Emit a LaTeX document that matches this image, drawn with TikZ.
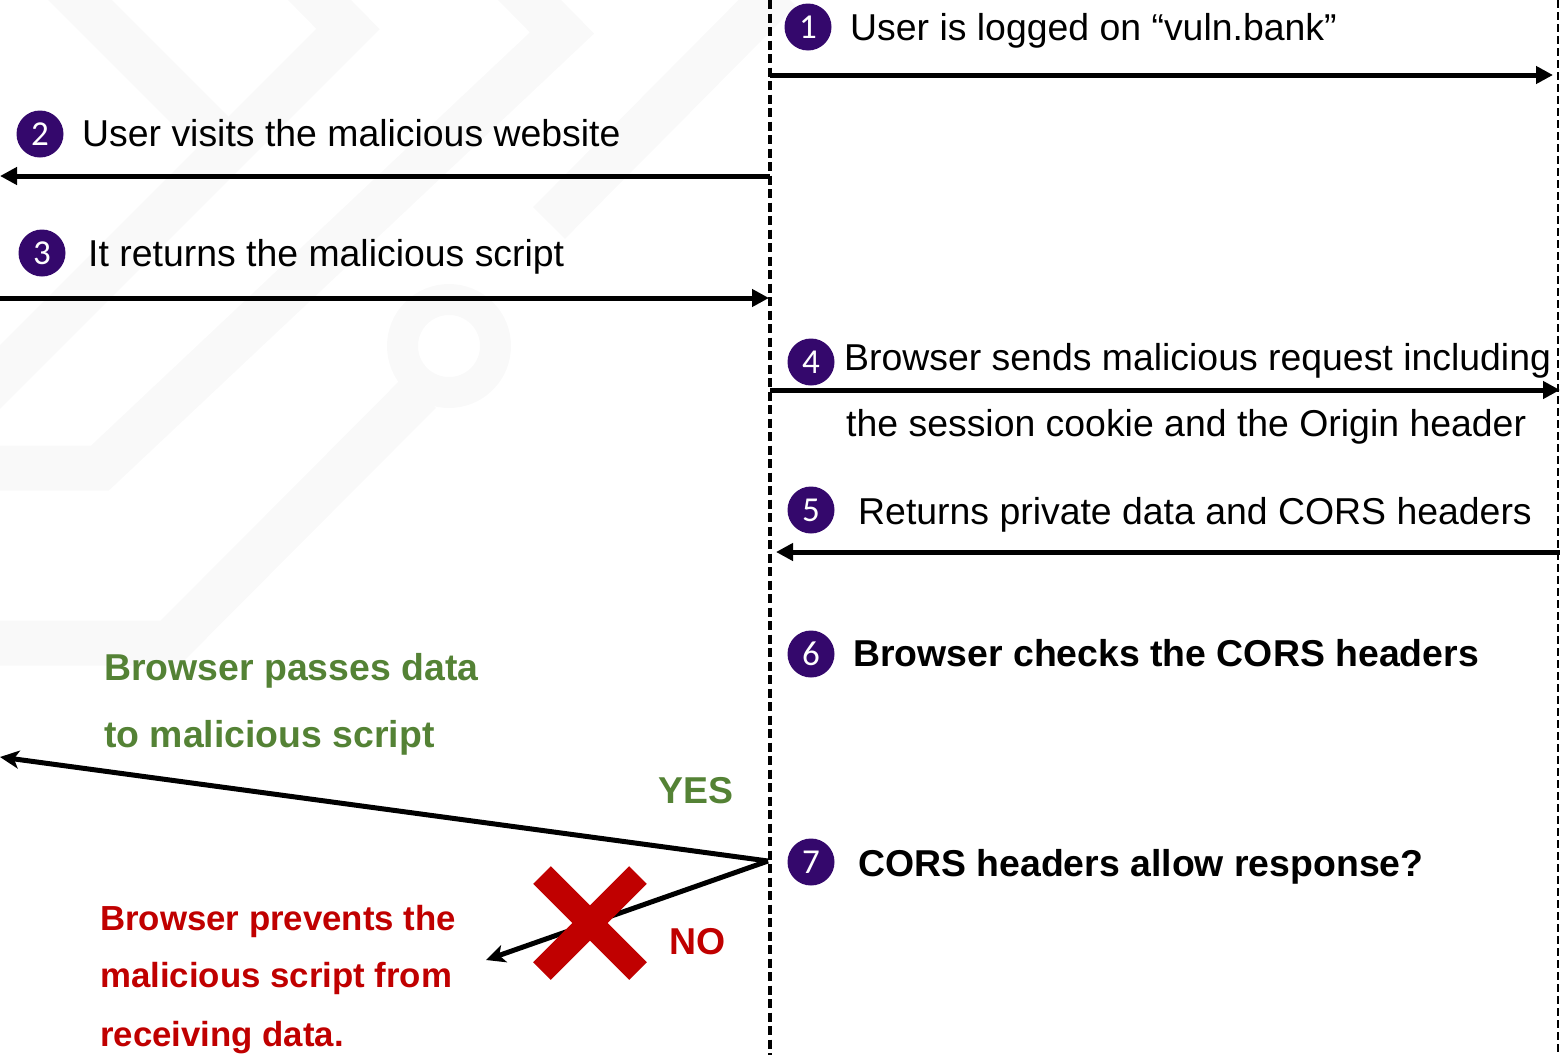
\documentclass[tikz,border=0pt]{standalone}
\usepackage{fontspec}
\setmainfont{Liberation Sans}
\newfontfamily\digitfont{Carlito}
\usetikzlibrary{arrows.meta}
\definecolor{numpurple}{RGB}{52,8,108}
\definecolor{okgreen}{RGB}{84,130,53}
\definecolor{nored}{RGB}{192,0,0}
\definecolor{wm}{RGB}{249,249,249}
\begin{document}
\begin{tikzpicture}[x=1pt,y=-1pt,
  num/.style={circle,fill=numpurple,text=white,minimum size=47pt,inner sep=0pt,
    font=\digitfont\fontsize{35}{35}\selectfont},
  lbl/.style={anchor=base west,inner sep=0pt,font=\fontsize{37.4}{44}\selectfont},
  blbl/.style={anchor=base west,inner sep=0pt,font=\fontsize{37.4}{44}\selectfont\bfseries},
  rlbl/.style={anchor=base west,inner sep=0pt,text=nored,font=\fontsize{34.8}{40}\selectfont\bfseries},
  msg/.style={line width=5pt,-{Triangle[length=17pt,width=17pt]}},
  branch/.style={line width=5pt,-{Stealth[length=19pt,width=18pt,inset=5pt]}},
  lifeline/.style={line width=3.2pt,dash pattern=on 9pt off 4.5pt},
  edgeline/.style={line width=1.3pt,dash pattern=on 8pt off 4pt},
  wmark/.style={wm,line width=45pt,line join=miter}
]
\useasboundingbox (0,0) rectangle (1560,1055);
% faint background watermark
\draw[wmark] (40,-40) -- (240,160);
\draw[wmark] (285,-35) -- (348,29) -- (-20,397);
\draw[wmark] (500,-30) -- (562,33) -- (100,468) -- (-20,468);
\draw[wmark] (780,-10) -- (549,223);
\draw[wm,line width=31pt] (449,346) circle (46.5);
\draw[wmark] (420,392) -- (170,643) -- (-20,643);

% lifelines
\coordinate (topL) at (770,0);
\coordinate (botL) at (770,1055);
\coordinate (topR) at (1558,0);
\coordinate (botR) at (1558,1055);
\draw[lifeline] (topL) -- (botL);
\draw[edgeline] (topR) -- (botR);

% message end points
\coordinate (m1s) at (770,75);   \coordinate (m1e) at (1553,75);
\coordinate (m2s) at (770,176);  \coordinate (m2e) at (0,176);
\coordinate (m3s) at (0,298);    \coordinate (m3e) at (769,298);
\coordinate (m4s) at (770,390);  \coordinate (m4e) at (1560,390);
\coordinate (m5s) at (1560,552); \coordinate (m5e) at (776,552);
\coordinate (dec) at (768,861);
\coordinate (yesend) at (0,757);
\coordinate (noend) at (486,960);

% numbered circles
\node[num] (n1) at (808,27) {1};
\node[num] (n2) at (40,134) {2};
\node[num] (n3) at (42,253) {3};
\node[num] (n4) at (811,362) {4};
\node[num] (n5) at (811,510) {5};
\node[num] (n6) at (811,654) {6};
\node[num] (n7) at (811,862) {7};

% labels
\node[lbl] (t1) at (850,40) {User is logged on “vuln.bank”};
\node[lbl] (t2) at (82,146) {User visits the malicious website};
\node[lbl] (t3) at (88,266) {It returns the malicious script};
\node[lbl] (t4a) at (844,370) {Browser sends malicious request including};
\node[lbl] (t4b) at (846,436) {the session cookie and the Origin header};
\node[lbl] (t5) at (858,524) {Returns private data and CORS headers};
\node[blbl] (t6) at (853,666) {Browser checks the CORS headers};
\node[blbl] (t7) at (858,876) {CORS headers allow response?};
\node[blbl,text=okgreen] (g1) at (104,680) {Browser passes data};
\node[blbl,text=okgreen] (g2) at (104,747) {to malicious script};
\node[blbl,text=okgreen] (yes) at (658,803) {YES};
\node[blbl,text=nored] (no) at (669,954) {NO};
\node[rlbl] (r1) at (100,930) {Browser prevents the};
\node[rlbl] (r2) at (100,987) {malicious script from};
\node[rlbl] (r3) at (100,1046) {receiving data.};

% messages
\draw[msg] (m1s) -- (m1e);
\draw[msg] (m2s) -- (m2e);
\draw[msg] (m3s) -- (m3e);
\draw[msg] (m4s) -- (m4e);
\draw[msg] (m5s) -- (m5e);
\draw[branch] (dec) -- (yesend);
\draw[branch] (dec) -- (noend);

% red cross
\coordinate (cross) at (590,923);
\draw[nored,line width=25pt] ([shift={(-48,-48)}]cross) -- ([shift={(48,48)}]cross);
\draw[nored,line width=25pt] ([shift={(48,-48)}]cross) -- ([shift={(-48,48)}]cross);
\end{tikzpicture}
\end{document}
